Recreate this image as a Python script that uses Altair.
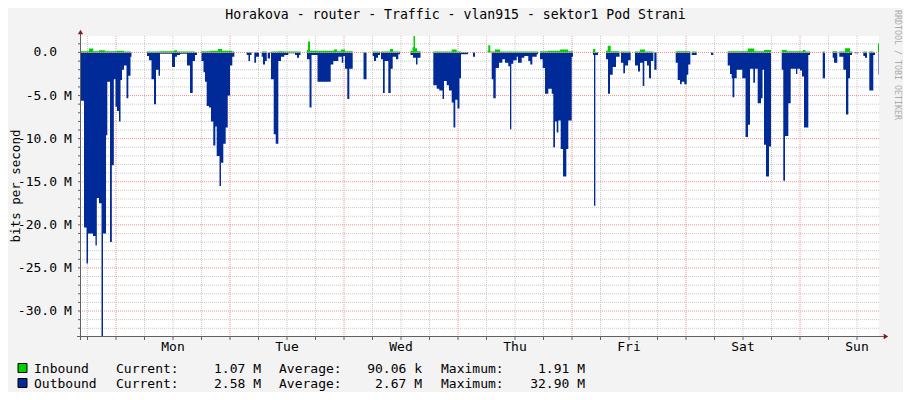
import altair as alt
import pandas as pd

# ---------------- data (hours relative to Monday 00:00, values in Mbit/s) ----------------
TITLE = "Horakova - router - Traffic - vlan915 - sektor1 Pod Strani"
Y_TITLE = "bits per second"
WATERMARK = "RRDTOOL / TOBI OETIKER"
DAY_NAMES = ["Mon", "Tue", "Wed", "Thu", "Fri", "Sat", "Sun"]
DAY_NOON_HOURS = [12, 36, 60, 84, 108, 132, 156]
MIDNIGHT_HOURS = [0, 24, 48, 72, 96, 120, 144]
Y_TICK_VALUES = [0, -5, -10, -15, -20, -25, -30]
Y_TICK_NUMBERS = ["0.0", "-5.0", "-10.0", "-15.0", "-20.0", "-25.0", "-30.0"]
Y_TICK_UNITS = ["", "M", "M", "M", "M", "M", "M"]
X_RANGE = [-7.37, 160.63]
Y_RANGE = [-32.9, 1.91]

SERIES = ["Inbound", "Outbound"]
CURRENT = ["1.07 M", "2.58 M"]
AVERAGE = ["90.06 k", "2.67 M"]
MAXIMUM = ["1.91 M", "32.90 M"]

outbound_hours = [
    -7.37, -6.74, -6.21, -5.89, -4.84, -4.32, -4.04, -3.58, -3.05, -2.74, -2.11, -1.83, -1.26, -0.88,
    -0.46, -0.11, 0.21, 0.63, 0.95, 1.26, 1.68, 2.21, 2.59, 3.05, 3.26,
    6.53, 6.95, 7.47, 8.00, 8.42, 8.95, 9.26, 11.79, 12.42, 12.84, 13.47, 14.95, 15.58, 16.15, 16.63, 17.05,
    18.0, 18.42, 18.74, 19.09, 19.58, 20.0, 20.48, 20.91, 21.2, 21.79, 22.1, 22.59, 23.09, 23.52, 24.0, 24.48, 24.91,
    27.52, 27.89, 28.21, 28.53, 29.12, 29.47, 30.11, 30.67, 30.95, 31.37, 31.73, 31.94, 32.42, 32.63, 33.2,
    33.62, 34.17, 34.74, 35.43, 36.27, 37.68, 38.11, 38.53, 38.84, 40.21, 40.74, 41.16, 42.42, 45.2, 45.75,
    46.8, 47.52, 47.85, 48.21, 48.69, 49.12, 49.83,
    52.11, 52.74, 54.04, 54.32, 54.74, 55.16, 55.58, 55.79, 56.21, 56.57, 57.33, 57.83, 58.25, 58.95, 59.43,
    59.79, 62.0, 62.53, 63.16, 63.47, 64.11,
    66.8, 67.52, 68.06, 68.74, 69.05, 69.62, 70.1, 70.67, 71.05, 71.43, 71.89, 72.31, 72.63, 74.1, 75.16, 75.58,
    79.09, 79.43, 79.94, 80.63, 81.33, 81.89, 82.59, 82.95, 83.22, 83.64, 84.36, 84.63, 85.41, 85.96, 86.8,
    87.22, 87.64, 88.57, 88.84, 89.26, 89.83, 90.32, 91.01, 91.73, 92.06, 92.42, 92.78, 93.12, 93.62, 94.11,
    94.8, 95.22, 95.94, 96.21,
    100.42, 100.63, 100.91, 101.47, 103.16, 103.58, 104.0, 104.57, 105.26, 106.0, 106.32, 106.8, 107.16,
    107.79, 108.35, 109.26, 109.89, 110.32, 110.88, 111.22, 111.79, 112.21, 112.63, 113.12, 113.33, 113.79,
    117.83, 118.25, 118.74, 119.09, 119.64, 120.15, 120.48, 120.91, 121.2, 122.25, 125.26, 125.75,
    128.78, 129.26, 129.62, 129.79, 130.17, 130.67, 131.85, 132.53, 133.05, 133.47, 134.17, 134.53, 135.09,
    135.79, 136.11, 136.42, 136.84, 137.47, 137.89, 140.15, 140.48, 140.84, 141.54, 142.04, 143.16, 143.43,
    144.0, 144.42, 144.84, 145.75, 146.11,
    148.78, 149.26, 150.88, 151.16, 151.85, 152.27, 153.12, 153.68, 154.17, 154.53, 154.95, 155.58, 156.27,
    157.33, 157.68, 158.11, 158.59, 159.43, 159.79, 160.53, 160.63,
]
outbound_mbps = [
    5.6, 20.3, 24.5, 21.0, 21.3, 22.4, 16.9, 17.5, 32.9, 21.0, 9.6, 3.4, 22.0, 13.1,
    3.1, 6.3, 6.8, 8.0, 3.2, 2.0, 1.5, 5.3, 2.7, 0.5, 0,
    0.4, 0.9, 3.1, 6.0, 2.0, 2.7, 0.15, 1.7, 0.5, 0.3, 0.15, 1.5, 4.7, 1.0, 0.3, 0,
    1.0, 2.3, 3.4, 6.2, 6.4, 8.0, 10.8, 8.6, 12.0, 15.5, 12.8, 10.6, 8.7, 5.0, 1.5, 0.5, 0,
    0.3, 1.0, 0.3, 0, 1.2, 0.5, 0, 0.5, 1.4, 1.0, 0, 0.7, 0, 3.1, 9.5,
    10.6, 1.0, 0.5, 0.3, 0.1, 0.3, 0.6, 0.3, 0, 0.8, 6.4, 0.3, 3.4, 1.4, 1.0,
    0.5, 1.2, 0.4, 1.9, 5.4, 1.9, 0,
    3.1, 0, 0.4, 1.0, 0.6, 0.3, 0, 0.8, 4.7, 1.0, 4.7, 1.9, 0.5, 0.8, 0.2,
    0, 0.3, 0.6, 1.4, 0.6, 0,
    3.8, 4.2, 4.4, 5.4, 3.3, 3.8, 4.4, 5.8, 8.7, 5.5, 6.5, 3.0, 0.2, 0, 0.5, 0,
    3.1, 5.3, 1.8, 1.2, 0.8, 1.2, 1.6, 8.9, 1.3, 0.9, 0.5, 1.2, 0.6, 0.4, 1.0,
    1.4, 0.5, 0.2, 0, 0.8, 1.8, 4.8, 4.2, 4.8, 11.0, 8.0, 9.3, 7.9, 11.2, 14.4,
    11.2, 7.9, 0.5, 0,
    0.3, 17.8, 0.3, 0, 0.8, 4.8, 2.6, 1.7, 0.5, 0, 1.2, 2.4, 1.5,
    0.9, 0, 1.5, 2.2, 1.2, 3.9, 1.0, 1.5, 3.0, 1.0, 0, 2.0, 0,
    1.2, 3.2, 3.7, 3.4, 3.7, 2.6, 1.4, 0, 0.3, 0, 0.3, 0,
    1.5, 2.5, 3.0, 5.2, 3.0, 2.0, 3.0, 9.8, 8.4, 1.9, 3.5, 1.9, 5.9,
    5.3, 2.0, 10.7, 14.4, 10.9, 0, 2.0, 14.9, 9.7, 5.9, 1.9, 2.5, 1.9,
    2.1, 2.8, 8.7, 0.3, 0,
    3.0, 0, 0.6, 1.2, 0, 0.5, 2.0, 7.2, 3.0, 0.3, 0, 0.1, 0,
    0.4, 0.6, 0, 4.4, 0.3, 0, 2.6, 2.6,
]

inbound_hours = [
    -7.37, -5.68, -4.78, -3.58, -2.32, 0.21, 1.68, 3.16,
    6.53, 9.26, 12.21, 12.84, 16.63, 17.05,
    18.0, 19.79, 21.47, 22.32, 24.42, 24.91,
    27.52, 28.53, 30.67, 31.73, 32.63, 34.11, 35.37, 38.84,
    40.21, 40.42, 40.84, 45.89, 46.53, 47.37, 48.21, 49.83,
    52.11, 52.74, 54.04, 55.58, 55.79, 57.68, 58.32, 59.79,
    62.0, 62.42, 62.63, 62.95, 63.37, 64.11,
    66.8, 70.67, 71.72, 72.63, 74.1,
    78.21, 78.38, 78.8, 79.79, 80.84, 88.84,
    89.26, 90.95, 93.47, 95.16, 96.21,
    100.42, 100.91, 101.47, 103.16, 103.52, 104.15, 106.0,
    106.32, 108.35, 109.26, 110.32, 111.37, 113.12, 113.79,
    117.83, 120.91, 121.2, 122.25,
    128.78, 132.99, 134.38, 136.42, 137.89,
    140.15, 141.2, 144.63, 145.12, 146.11,
    148.78, 149.26, 150.88, 151.85, 152.27, 153.47, 154.53, 154.95,
    157.33, 158.11, 158.59, 159.43, 159.79, 160.42, 160.63,
]
inbound_mbps = [
    0.15, 0.45, 0.15, 0.25, 0.15, 0.2, 0.12, 0,
    0.1, 0.15, 0.25, 0.12, 0.05, 0,
    0.15, 0.2, 0.4, 0.2, 0.1, 0,
    0.05, 0, 0.1, 0, 0.1, 0.15, 0.1, 0,
    0.3, 1.27, 0.2, 0.35, 0.15, 0.35, 0.15, 0,
    0.05, 0, 0.1, 0, 0.1, 0.4, 0.1, 0,
    0.2, 0.6, 1.91, 0.5, 0.15, 0,
    0.1, 0.35, 0.1, 0.05, 0,
    0.2, 0.85, 0.1, 0.35, 0.12, 0,
    0.15, 0.2, 0.35, 0.15, 0,
    0.4, 0.05, 0, 0.2, 0.77, 0.15, 0,
    0.1, 0, 0.1, 0.35, 0.1, 0.05, 0,
    0.15, 0, 0.1, 0,
    0.15, 0.45, 0.15, 0.3, 0,
    0.3, 0.15, 0.3, 0.1, 0,
    0.1, 0, 0.15, 0, 0.1, 0.5, 0.1, 0,
    0.1, 0, 0.1, 0.05, 0, 1.07, 1.07,
]

# ---------------- styling ----------------
FONT = "DejaVu Sans Mono"
GREEN = "#00CF00"
BLUE = "#002A97"
GRID_GRAY = "#C8C8C8"
GRID_RED = "#F29090"
AXIS_COLOR = "#606060"
ARROW_COLOR = "#8B1A1A"

xs = alt.Scale(domain=X_RANGE, nice=False, zero=False)
ys = alt.Scale(domain=Y_RANGE, nice=False, zero=False)

df_out = pd.DataFrame({"h": outbound_hours, "v": [-m for m in outbound_mbps]})
df_in = pd.DataFrame({"h": inbound_hours, "v": inbound_mbps})

six_hour = [h for h in range(-6, 160, 6) if h % 24 != 0]
minor_y = [v for v in range(-32, 2) if v % 5 != 0]
all_6h = list(range(-6, 160, 6))
all_y = list(range(-32, 2))


def X(field="h"):
    return alt.X(f"{field}:Q", scale=xs, axis=None)


def Y(field="v"):
    return alt.Y(f"{field}:Q", scale=ys, axis=None)


vgrid_gray = alt.Chart(pd.DataFrame({"h": six_hour})).mark_rule(
    color=GRID_GRAY, strokeDash=[1, 1], strokeWidth=1).encode(x=X())
vgrid_red = alt.Chart(pd.DataFrame({"h": MIDNIGHT_HOURS})).mark_rule(
    color=GRID_RED, strokeDash=[1, 1], strokeWidth=1).encode(x=X())
hgrid_gray = alt.Chart(pd.DataFrame({"v": minor_y})).mark_rule(
    color=GRID_GRAY, strokeDash=[1, 1], strokeWidth=1).encode(y=Y())
hgrid_red = alt.Chart(pd.DataFrame({"v": Y_TICK_VALUES})).mark_rule(
    color=GRID_RED, strokeDash=[1, 1], strokeWidth=1).encode(y=Y())

out_area = alt.Chart(df_out).mark_area(interpolate="step-after", color=BLUE).encode(
    x=X(), y=Y(), y2=alt.datum(0))
in_area = alt.Chart(df_in).mark_area(interpolate="step-after", color=GREEN).encode(
    x=X(), y=Y(), y2=alt.datum(0))

zero_line = alt.Chart(pd.DataFrame({"v": [0]})).mark_rule(
    color=GRID_RED, strokeDash=[1, 1], strokeWidth=1).encode(y=Y())

# axes
y_axis_line = alt.Chart(pd.DataFrame({"a": [0]})).mark_rule(color=AXIS_COLOR, strokeWidth=1).encode(
    x=alt.value(-0.5), y=alt.value(-4), y2=alt.value(304))
x_axis_line = alt.Chart(pd.DataFrame({"a": [0]})).mark_rule(color=AXIS_COLOR, strokeWidth=1).encode(
    x=alt.value(-4), x2=alt.value(803), y=alt.value(300.5))
up_arrow = alt.Chart(pd.DataFrame({"a": [0]})).mark_point(
    shape="triangle-up", filled=True, color=ARROW_COLOR, size=28, opacity=1).encode(
    x=alt.value(-0.5), y=alt.value(-4))
right_arrow = alt.Chart(pd.DataFrame({"a": [0]})).mark_point(
    shape="triangle-right", filled=True, color=ARROW_COLOR, size=28, opacity=1).encode(
    x=alt.value(805), y=alt.value(300.5))

x_ticks = alt.Chart(pd.DataFrame({"h": all_6h})).mark_rule(color=AXIS_COLOR, strokeWidth=1).encode(
    x=X(), y=alt.value(301), y2=alt.value(304))
y_ticks = alt.Chart(pd.DataFrame({"v": all_y})).mark_rule(color=AXIS_COLOR, strokeWidth=1).encode(
    y=Y(), x=alt.value(-3), x2=alt.value(-1))

df_ylab = pd.DataFrame({"v": Y_TICK_VALUES, "num": Y_TICK_NUMBERS, "unit": Y_TICK_UNITS})
y_label_nums = alt.Chart(df_ylab).mark_text(
    align="right", baseline="middle", font=FONT, fontSize=13, color="black").encode(
    y=Y(), x=alt.value(-24), text="num:N")
y_label_units = alt.Chart(df_ylab).mark_text(
    align="left", baseline="middle", font=FONT, fontSize=13, color="black").encode(
    y=Y(), x=alt.value(-17), text="unit:N")
x_labels = alt.Chart(pd.DataFrame({"h": DAY_NOON_HOURS, "label": DAY_NAMES})).mark_text(
    align="center", baseline="alphabetic", font=FONT, fontSize=13, color="black").encode(
    x=X(), y=alt.value(315), text="label:N")


def txt(s, x, y, align="left", baseline="alphabetic", size=13, color="black", angle=0):
    return alt.Chart(pd.DataFrame({"t": [s]})).mark_text(
        align=align, baseline=baseline, font=FONT, fontSize=size, color=color, angle=angle).encode(
        text="t:N", x=alt.value(x), y=alt.value(y))


title = txt(TITLE, 374.5, -17, align="center", size=13.2)
y_title = txt(Y_TITLE, -65.5, 150, align="center", baseline="middle", size=12.5, angle=270)
watermark = txt(WATERMARK, 815.5, 29, align="center", baseline="middle", size=8.3, color="#ABABAB", angle=90)

legend_layers = []
for i, (name, color) in enumerate(zip(SERIES, [GREEN, BLUE])):
    base_y = 337 + 15 * i
    legend_layers.append(
        alt.Chart(pd.DataFrame({"a": [0]})).mark_rect(color=color, stroke="black", strokeWidth=1).encode(
            x=alt.value(-63), x2=alt.value(-54), y=alt.value(base_y - 9.5), y2=alt.value(base_y - 0.5)))
    legend_layers.append(txt(name, -47, base_y))
    legend_layers.append(txt("Current:", 35, base_y))
    legend_layers.append(txt(CURRENT[i], 180, base_y, align="right"))
    legend_layers.append(txt("Average:", 198, base_y))
    legend_layers.append(txt(AVERAGE[i], 341, base_y, align="right"))
    legend_layers.append(txt("Maximum:", 360, base_y))
    legend_layers.append(txt(MAXIMUM[i], 504, base_y, align="right"))

chart = alt.layer(
    vgrid_gray, hgrid_gray, vgrid_red, hgrid_red,
    out_area, in_area, zero_line,
    x_ticks, y_ticks, y_axis_line, x_axis_line, up_arrow, right_arrow,
    y_label_nums, y_label_units, x_labels, title, y_title, watermark, *legend_layers,
).properties(
    width=798, height=300,
    background="#F3F3F3",
    padding={"left": 73, "top": 28, "right": 24, "bottom": 56},
    autosize=alt.AutoSizeParams(type="none"),
).configure_view(fill="white", strokeWidth=0)

chart.save("out.html", embed_options={"renderer": "svg", "actions": False})
